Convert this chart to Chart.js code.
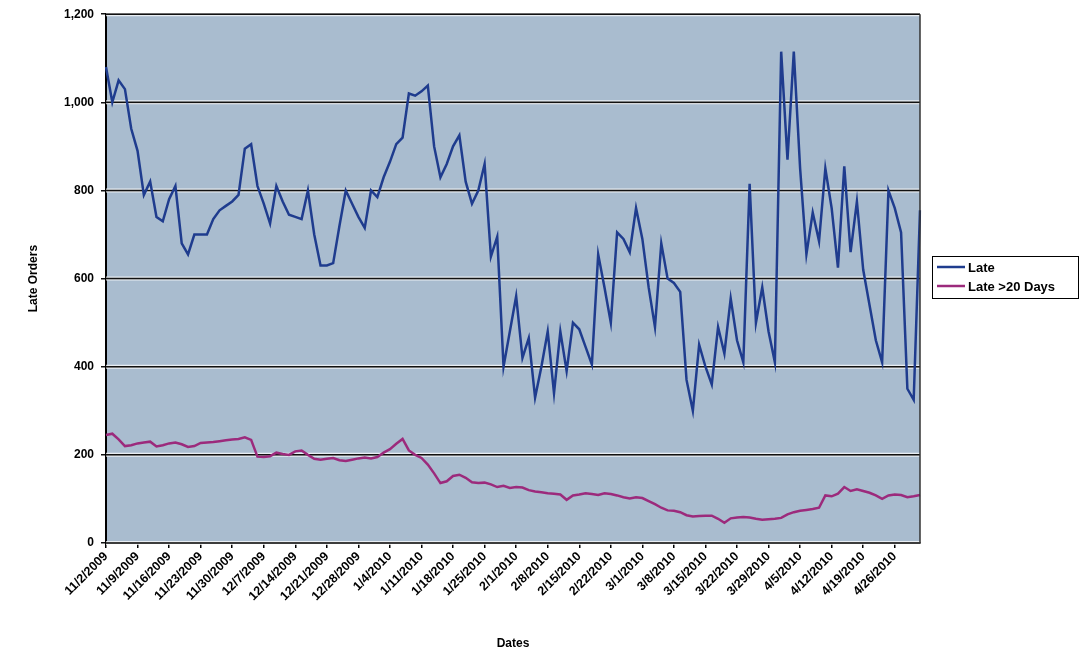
<!DOCTYPE html>
<html>
<head>
<meta charset="utf-8">
<script src="https://cdn.jsdelivr.net/npm/chart.js@4.4.1/dist/chart.umd.min.js"></script>
<style>
  html, body { margin: 0; padding: 0; background: #fff; }
  canvas { display: block; }
</style>
</head>
<body>
<canvas id="chart" width="1082" height="658"></canvas>
<script>
// one category per working day
const dates = [
  "11/2/2009", "11/3/2009", "11/4/2009", "11/5/2009", "11/6/2009",
  "11/9/2009", "11/10/2009", "11/11/2009", "11/12/2009", "11/13/2009",
  "11/16/2009", "11/17/2009", "11/18/2009", "11/19/2009", "11/20/2009",
  "11/23/2009", "11/24/2009", "11/25/2009", "11/26/2009", "11/27/2009",
  "11/30/2009", "12/1/2009", "12/2/2009", "12/3/2009", "12/4/2009",
  "12/7/2009", "12/8/2009", "12/9/2009", "12/10/2009", "12/11/2009",
  "12/14/2009", "12/15/2009", "12/16/2009", "12/17/2009", "12/18/2009",
  "12/21/2009", "12/22/2009", "12/23/2009", "12/24/2009", "12/25/2009",
  "12/28/2009", "12/29/2009", "12/30/2009", "12/31/2009", "1/1/2010",
  "1/4/2010", "1/5/2010", "1/6/2010", "1/7/2010", "1/8/2010",
  "1/11/2010", "1/12/2010", "1/13/2010", "1/14/2010", "1/15/2010",
  "1/18/2010", "1/19/2010", "1/20/2010", "1/21/2010", "1/22/2010",
  "1/25/2010", "1/26/2010", "1/27/2010", "1/28/2010", "1/29/2010",
  "2/1/2010", "2/2/2010", "2/3/2010", "2/4/2010", "2/5/2010",
  "2/8/2010", "2/9/2010", "2/10/2010", "2/11/2010", "2/12/2010",
  "2/15/2010", "2/16/2010", "2/17/2010", "2/18/2010", "2/19/2010",
  "2/22/2010", "2/23/2010", "2/24/2010", "2/25/2010", "2/26/2010",
  "3/1/2010", "3/2/2010", "3/3/2010", "3/4/2010", "3/5/2010",
  "3/8/2010", "3/9/2010", "3/10/2010", "3/11/2010", "3/12/2010",
  "3/15/2010", "3/16/2010", "3/17/2010", "3/18/2010", "3/19/2010",
  "3/22/2010", "3/23/2010", "3/24/2010", "3/25/2010", "3/26/2010",
  "3/29/2010", "3/30/2010", "3/31/2010", "4/1/2010", "4/2/2010",
  "4/5/2010", "4/6/2010", "4/7/2010", "4/8/2010", "4/9/2010",
  "4/12/2010", "4/13/2010", "4/14/2010", "4/15/2010", "4/16/2010",
  "4/19/2010", "4/20/2010", "4/21/2010", "4/22/2010", "4/23/2010",
  "4/26/2010", "4/27/2010", "4/28/2010", "4/29/2010", "4/30/2010"
]

// labelled ticks on the date axis
const tickLabels = [
  "11/2/2009", "11/9/2009", "11/16/2009", "11/23/2009", "11/30/2009",
  "12/7/2009", "12/14/2009", "12/21/2009", "12/28/2009",
  "1/4/2010", "1/11/2010", "1/18/2010", "1/25/2010",
  "2/1/2010", "2/8/2010", "2/15/2010", "2/22/2010",
  "3/1/2010", "3/8/2010", "3/15/2010", "3/22/2010", "3/29/2010",
  "4/5/2010", "4/12/2010", "4/19/2010", "4/26/2010"
]

const late = [
  1080, 1000, 1050, 1030, 940,
  890, 790, 820, 740, 730,
  780, 810, 680, 655, 700,
  700, 700, 735, 755, 765,
  775, 790, 895, 905, 810,
  770, 725, 810, 775, 745,
  740, 735, 800, 700, 630,
  630, 635, 720, 800, 770,
  740, 715, 800, 785, 830,
  865, 905, 920, 1020, 1015,
  1025, 1038, 900, 830, 860,
  900, 925, 820, 770, 800,
  860, 650, 695, 400, 480,
  560, 420, 465, 330, 400,
  480, 340, 480, 390, 500,
  485, 445, 405, 655, 580,
  500, 705, 690, 660, 760,
  690, 580, 490, 680, 600,
  590, 570, 370, 300, 450,
  400, 360, 490, 430, 555,
  460, 410, 815, 500, 580,
  480, 410, 1115, 870, 1115,
  850, 655, 750, 685, 850,
  760, 625, 855, 660, 775,
  620, 540, 460, 410, 800,
  760, 705, 350, 325, 755
]

const lateOver20 = [
  245, 248, 235, 220, 222,
  226, 228, 230, 219, 222,
  226, 228, 224, 218, 220,
  227, 228, 229, 231, 233,
  235, 236, 240, 234, 196,
  195, 197, 205, 202, 200,
  208, 210, 200, 191, 189,
  191, 193, 188, 186, 189,
  192, 194, 192, 195, 205,
  213, 225, 236, 210, 200,
  193, 178, 158, 136, 140,
  152, 155, 148, 138, 136,
  137, 133, 127, 130, 125,
  127, 126, 120, 117, 115,
  113, 112, 110, 98, 108,
  110, 113, 111, 109, 113,
  111, 108, 104, 101, 104,
  102, 95, 88, 80, 74,
  73, 70, 63, 60, 61,
  62, 62, 55, 46, 56,
  58, 59, 58, 55, 53,
  54, 55, 57, 65, 70,
  73, 75, 77, 80, 108,
  106, 112, 127, 118, 122,
  118, 114, 108, 100, 108,
  110, 109, 104, 106, 109
]

const FONT = '"Liberation Sans", Arial, sans-serif'
Chart.defaults.font.family = FONT
Chart.defaults.font.size = 12
Chart.defaults.font.weight = "bold"
Chart.defaults.color = "#000"

// grey-blue plot fill, light halo on the gridlines, frame and the boxed legend
const excelFrame = {
  id: "excelFrame",
  beforeDraw(chart) {
    const { ctx, chartArea: a } = chart
    ctx.save()
    ctx.fillStyle = "#a9bccf"
    ctx.fillRect(a.left, a.top, a.right - a.left, a.bottom - a.top)
    ctx.restore()
  },
  beforeDatasetsDraw(chart) {
    const { ctx, chartArea: a, scales } = chart
    ctx.save()
    scales.y.ticks.forEach(t => {
      const y = scales.y.getPixelForValue(t.value)
      ctx.strokeStyle = "rgba(255,255,255,0.75)"
      ctx.lineWidth = 4
      ctx.beginPath()
      ctx.moveTo(a.left, y)
      ctx.lineTo(a.right, y)
      ctx.stroke()
      ctx.strokeStyle = "#111"
      ctx.lineWidth = 1.5
      ctx.beginPath()
      ctx.moveTo(a.left, y)
      ctx.lineTo(a.right, y)
      ctx.stroke()
    })
    ctx.restore()
  },
  afterDraw(chart) {
    const { ctx, chartArea: a } = chart
    ctx.save()
    ctx.strokeStyle = "#333"
    ctx.lineWidth = 1.5
    ctx.beginPath()
    ctx.moveTo(a.right, a.top)
    ctx.lineTo(a.right, a.bottom)
    ctx.stroke()

    const x0 = 932, y0 = 256, w = 146, h = 42
    ctx.strokeStyle = "#000"
    ctx.lineWidth = 1
    ctx.strokeRect(x0 + 0.5, y0 + 0.5, w, h)
    ctx.font = "bold 13px " + FONT
    ctx.textBaseline = "middle"
    chart.data.datasets.forEach((ds, i) => {
      const y = y0 + 11 + i * 19
      ctx.strokeStyle = ds.borderColor
      ctx.lineWidth = 2.5
      ctx.beginPath()
      ctx.moveTo(x0 + 5, y)
      ctx.lineTo(x0 + 33, y)
      ctx.stroke()
      ctx.fillStyle = "#000"
      ctx.fillText(ds.label, x0 + 36, y + 1)
    })
    ctx.restore()
  }
}

const isLabelled = i => tickLabels.includes(dates[i])

new Chart(document.getElementById("chart"), {
  type: "line",
  data: {
    labels: dates,
    datasets: [
      {
        label: "Late",
        data: late,
        borderColor: "#1f3c8e",
        borderWidth: 2.5,
        pointRadius: 0,
        tension: 0
      },
      {
        label: "Late >20 Days",
        data: lateOver20,
        borderColor: "#9c2a7c",
        borderWidth: 2.5,
        pointRadius: 0,
        tension: 0
      }
    ]
  },
  options: {
    responsive: false,
    animation: false,
    layout: { padding: { top: 13, right: 162, bottom: 7, left: 26 } },
    plugins: {
      legend: { display: false },
      tooltip: { enabled: false }
    },
    scales: {
      x: {
        type: "category",
        offset: false,
        afterFit: s => { s.height = 108 },
        grid: {
          drawOnChartArea: false,
          drawTicks: true,
          tickLength: 5,
          lineWidth: 1.5,
          color: ctx => isLabelled(ctx.index) ? "#000" : "rgba(0,0,0,0)"
        },
        border: { color: "#000", width: 2 },
        ticks: {
          autoSkip: false,
          minRotation: 45,
          maxRotation: 45,
          padding: 1,
          font: { size: 12.5 },
          callback: (v, i) => isLabelled(i) ? dates[i] : ""
        },
        title: {
          display: true,
          text: "Dates",
          padding: { top: 0, bottom: 0 }
        }
      },
      y: {
        min: 0,
        max: 1200,
        afterFit: s => { s.width = 80 },
        grid: { color: "#111", lineWidth: 1.5, tickLength: 5 },
        border: { color: "#000", width: 2 },
        ticks: {
          stepSize: 200,
          padding: 7,
          callback: v => v.toLocaleString("en-US")
        },
        title: {
          display: true,
          text: "Late Orders",
          padding: { top: 0, bottom: 0 }
        }
      }
    }
  },
  plugins: [excelFrame]
})
</script>
</body>
</html>
